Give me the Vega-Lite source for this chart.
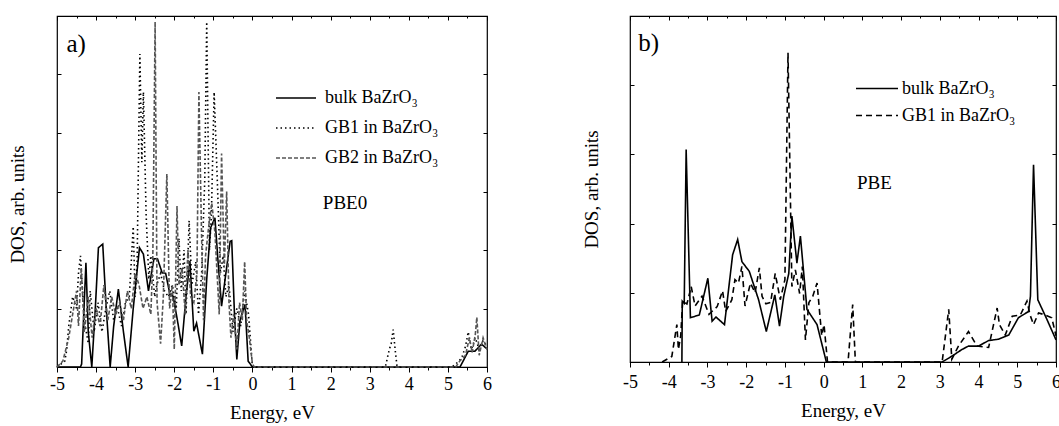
{
  "$schema": "https://vega.github.io/schema/vega-lite/v6.json",
  "autosize": {"type": "pad"},
  "padding": {"left": 7, "top": 14, "right": 0, "bottom": 0},
  "background": "white",
  "config": {
    "view": {"stroke": "black", "strokeWidth": 1.2},
    "axis": {"labelFont": "Liberation Serif", "titleFont": "Liberation Serif", "labelColor": "black", "titleColor": "black", "titleFontWeight": "normal", "grid": false, "tickColor": "black", "domainColor": "black"},
    "legend": {"labelFont": "Liberation Serif", "labelColor": "black"},
    "text": {"font": "Liberation Serif", "color": "black"}
  },
  "datasets": {
    "a": [
      {"s": "bulk BaZrO₃", "E": -5, "v": 0}, {"s": "bulk BaZrO₃", "E": -4.4, "v": 0}, {"s": "bulk BaZrO₃", "E": -4.37, "v": 0.05}, {"s": "bulk BaZrO₃", "E": -4.26, "v": 1.78}, {"s": "bulk BaZrO₃", "E": -4.2, "v": 0.6}, {"s": "bulk BaZrO₃", "E": -4.11, "v": 0}, {"s": "bulk BaZrO₃", "E": -4.02, "v": 1.0}, {"s": "bulk BaZrO₃", "E": -3.94, "v": 2.04}, {"s": "bulk BaZrO₃", "E": -3.83, "v": 2.1}, {"s": "bulk BaZrO₃", "E": -3.74, "v": 1.0}, {"s": "bulk BaZrO₃", "E": -3.64, "v": 0}, {"s": "bulk BaZrO₃", "E": -3.55, "v": 0.7}, {"s": "bulk BaZrO₃", "E": -3.43, "v": 1.33}, {"s": "bulk BaZrO₃", "E": -3.3, "v": 0.6}, {"s": "bulk BaZrO₃", "E": -3.18, "v": 0}, {"s": "bulk BaZrO₃", "E": -3.05, "v": 1.0}, {"s": "bulk BaZrO₃", "E": -2.89, "v": 2.04}, {"s": "bulk BaZrO₃", "E": -2.79, "v": 1.93}, {"s": "bulk BaZrO₃", "E": -2.66, "v": 1.3}, {"s": "bulk BaZrO₃", "E": -2.52, "v": 1.85}, {"s": "bulk BaZrO₃", "E": -2.43, "v": 1.85}, {"s": "bulk BaZrO₃", "E": -2.31, "v": 1.61}, {"s": "bulk BaZrO₃", "E": -2.22, "v": 1.6}, {"s": "bulk BaZrO₃", "E": -2.11, "v": 1.24}, {"s": "bulk BaZrO₃", "E": -2.03, "v": 1.21}, {"s": "bulk BaZrO₃", "E": -1.92, "v": 0.8}, {"s": "bulk BaZrO₃", "E": -1.81, "v": 0.36}, {"s": "bulk BaZrO₃", "E": -1.7, "v": 1.2}, {"s": "bulk BaZrO₃", "E": -1.6, "v": 1.81}, {"s": "bulk BaZrO₃", "E": -1.5, "v": 0.61}, {"s": "bulk BaZrO₃", "E": -1.43, "v": 0.75}, {"s": "bulk BaZrO₃", "E": -1.36, "v": 0.5}, {"s": "bulk BaZrO₃", "E": -1.28, "v": 0.22}, {"s": "bulk BaZrO₃", "E": -1.17, "v": 1.5}, {"s": "bulk BaZrO₃", "E": -1.07, "v": 2.38}, {"s": "bulk BaZrO₃", "E": -0.96, "v": 2.55}, {"s": "bulk BaZrO₃", "E": -0.88, "v": 1.8}, {"s": "bulk BaZrO₃", "E": -0.79, "v": 1.04}, {"s": "bulk BaZrO₃", "E": -0.68, "v": 1.6}, {"s": "bulk BaZrO₃", "E": -0.57, "v": 2.15}, {"s": "bulk BaZrO₃", "E": -0.53, "v": 2.16}, {"s": "bulk BaZrO₃", "E": -0.46, "v": 0.9}, {"s": "bulk BaZrO₃", "E": -0.4, "v": 0.13}, {"s": "bulk BaZrO₃", "E": -0.32, "v": 0.79}, {"s": "bulk BaZrO₃", "E": -0.19, "v": 1.07}, {"s": "bulk BaZrO₃", "E": -0.11, "v": 0.1}, {"s": "bulk BaZrO₃", "E": 0, "v": 0}, {"s": "bulk BaZrO₃", "E": 5.14, "v": 0}, {"s": "bulk BaZrO₃", "E": 5.31, "v": 0}, {"s": "bulk BaZrO₃", "E": 5.52, "v": 0.27}, {"s": "bulk BaZrO₃", "E": 5.69, "v": 0.27}, {"s": "bulk BaZrO₃", "E": 5.86, "v": 0.39}, {"s": "bulk BaZrO₃", "E": 6, "v": 0.31},

      {"s": "GB1 in BaZrO₃", "E": -5, "v": 0}, {"s": "GB1 in BaZrO₃", "E": -4.9, "v": 0.05}, {"s": "GB1 in BaZrO₃", "E": -4.8, "v": 0.1}, {"s": "GB1 in BaZrO₃", "E": -4.75, "v": 0.3}, {"s": "GB1 in BaZrO₃", "E": -4.7, "v": 0.7}, {"s": "GB1 in BaZrO₃", "E": -4.6, "v": 1.2}, {"s": "GB1 in BaZrO₃", "E": -4.5, "v": 1.0}, {"s": "GB1 in BaZrO₃", "E": -4.45, "v": 1.6}, {"s": "GB1 in BaZrO₃", "E": -4.4, "v": 1.9}, {"s": "GB1 in BaZrO₃", "E": -4.3, "v": 0.8}, {"s": "GB1 in BaZrO₃", "E": -4.2, "v": 0.4}, {"s": "GB1 in BaZrO₃", "E": -4.15, "v": 1.3}, {"s": "GB1 in BaZrO₃", "E": -4.05, "v": 0.6}, {"s": "GB1 in BaZrO₃", "E": -3.95, "v": 1.1}, {"s": "GB1 in BaZrO₃", "E": -3.85, "v": 0.6}, {"s": "GB1 in BaZrO₃", "E": -3.75, "v": 1.0}, {"s": "GB1 in BaZrO₃", "E": -3.65, "v": 1.3}, {"s": "GB1 in BaZrO₃", "E": -3.55, "v": 0.8}, {"s": "GB1 in BaZrO₃", "E": -3.45, "v": 1.0}, {"s": "GB1 in BaZrO₃", "E": -3.35, "v": 0.7}, {"s": "GB1 in BaZrO₃", "E": -3.25, "v": 1.1}, {"s": "GB1 in BaZrO₃", "E": -3.15, "v": 1.2}, {"s": "GB1 in BaZrO₃", "E": -3.05, "v": 2.4}, {"s": "GB1 in BaZrO₃", "E": -3.0, "v": 1.2}, {"s": "GB1 in BaZrO₃", "E": -2.95, "v": 1.8}, {"s": "GB1 in BaZrO₃", "E": -2.88, "v": 5.35}, {"s": "GB1 in BaZrO₃", "E": -2.83, "v": 3.5}, {"s": "GB1 in BaZrO₃", "E": -2.79, "v": 4.7}, {"s": "GB1 in BaZrO₃", "E": -2.72, "v": 2.6}, {"s": "GB1 in BaZrO₃", "E": -2.65, "v": 1.5}, {"s": "GB1 in BaZrO₃", "E": -2.6, "v": 1.9}, {"s": "GB1 in BaZrO₃", "E": -2.5, "v": 1.2}, {"s": "GB1 in BaZrO₃", "E": -2.45, "v": 1.4}, {"s": "GB1 in BaZrO₃", "E": -2.35, "v": 1.6}, {"s": "GB1 in BaZrO₃", "E": -2.25, "v": 1.3}, {"s": "GB1 in BaZrO₃", "E": -2.15, "v": 1.2}, {"s": "GB1 in BaZrO₃", "E": -2.05, "v": 1.4}, {"s": "GB1 in BaZrO₃", "E": -1.95, "v": 1.0}, {"s": "GB1 in BaZrO₃", "E": -1.88, "v": 2.2}, {"s": "GB1 in BaZrO₃", "E": -1.82, "v": 1.3}, {"s": "GB1 in BaZrO₃", "E": -1.75, "v": 2.0}, {"s": "GB1 in BaZrO₃", "E": -1.7, "v": 0.9}, {"s": "GB1 in BaZrO₃", "E": -1.62, "v": 2.5}, {"s": "GB1 in BaZrO₃", "E": -1.55, "v": 1.4}, {"s": "GB1 in BaZrO₃", "E": -1.45, "v": 1.8}, {"s": "GB1 in BaZrO₃", "E": -1.38, "v": 0.9}, {"s": "GB1 in BaZrO₃", "E": -1.3, "v": 1.6}, {"s": "GB1 in BaZrO₃", "E": -1.22, "v": 3.2}, {"s": "GB1 in BaZrO₃", "E": -1.17, "v": 5.9}, {"s": "GB1 in BaZrO₃", "E": -1.1, "v": 2.0}, {"s": "GB1 in BaZrO₃", "E": -1.05, "v": 2.6}, {"s": "GB1 in BaZrO₃", "E": -0.98, "v": 4.7}, {"s": "GB1 in BaZrO₃", "E": -0.9, "v": 3.2}, {"s": "GB1 in BaZrO₃", "E": -0.82, "v": 1.6}, {"s": "GB1 in BaZrO₃", "E": -0.75, "v": 1.9}, {"s": "GB1 in BaZrO₃", "E": -0.68, "v": 1.2}, {"s": "GB1 in BaZrO₃", "E": -0.6, "v": 1.4}, {"s": "GB1 in BaZrO₃", "E": -0.5, "v": 0.6}, {"s": "GB1 in BaZrO₃", "E": -0.4, "v": 1.0}, {"s": "GB1 in BaZrO₃", "E": -0.3, "v": 0.7}, {"s": "GB1 in BaZrO₃", "E": -0.2, "v": 1.3}, {"s": "GB1 in BaZrO₃", "E": -0.1, "v": 0.9}, {"s": "GB1 in BaZrO₃", "E": -0.05, "v": 0.45}, {"s": "GB1 in BaZrO₃", "E": 0, "v": 0}, {"s": "GB1 in BaZrO₃", "E": 3.4, "v": 0}, {"s": "GB1 in BaZrO₃", "E": 3.5, "v": 0.3}, {"s": "GB1 in BaZrO₃", "E": 3.55, "v": 0.4}, {"s": "GB1 in BaZrO₃", "E": 3.6, "v": 0.64}, {"s": "GB1 in BaZrO₃", "E": 3.65, "v": 0.3}, {"s": "GB1 in BaZrO₃", "E": 3.7, "v": 0}, {"s": "GB1 in BaZrO₃", "E": 5.1, "v": 0}, {"s": "GB1 in BaZrO₃", "E": 5.2, "v": 0.05}, {"s": "GB1 in BaZrO₃", "E": 5.35, "v": 0.15}, {"s": "GB1 in BaZrO₃", "E": 5.45, "v": 0.35}, {"s": "GB1 in BaZrO₃", "E": 5.52, "v": 0.6}, {"s": "GB1 in BaZrO₃", "E": 5.6, "v": 0.3}, {"s": "GB1 in BaZrO₃", "E": 5.7, "v": 0.5}, {"s": "GB1 in BaZrO₃", "E": 5.8, "v": 0.3}, {"s": "GB1 in BaZrO₃", "E": 5.9, "v": 0.45}, {"s": "GB1 in BaZrO₃", "E": 6, "v": 0.35},

      {"s": "GB2 in BaZrO₃", "E": -5, "v": 0}, {"s": "GB2 in BaZrO₃", "E": -4.85, "v": 0.1}, {"s": "GB2 in BaZrO₃", "E": -4.7, "v": 0.5}, {"s": "GB2 in BaZrO₃", "E": -4.6, "v": 0.9}, {"s": "GB2 in BaZrO₃", "E": -4.5, "v": 1.3}, {"s": "GB2 in BaZrO₃", "E": -4.45, "v": 0.7}, {"s": "GB2 in BaZrO₃", "E": -4.38, "v": 1.7}, {"s": "GB2 in BaZrO₃", "E": -4.3, "v": 0.6}, {"s": "GB2 in BaZrO₃", "E": -4.2, "v": 1.2}, {"s": "GB2 in BaZrO₃", "E": -4.1, "v": 0.5}, {"s": "GB2 in BaZrO₃", "E": -4.0, "v": 1.0}, {"s": "GB2 in BaZrO₃", "E": -3.9, "v": 0.7}, {"s": "GB2 in BaZrO₃", "E": -3.8, "v": 1.4}, {"s": "GB2 in BaZrO₃", "E": -3.7, "v": 0.8}, {"s": "GB2 in BaZrO₃", "E": -3.6, "v": 1.2}, {"s": "GB2 in BaZrO₃", "E": -3.5, "v": 0.9}, {"s": "GB2 in BaZrO₃", "E": -3.4, "v": 1.1}, {"s": "GB2 in BaZrO₃", "E": -3.3, "v": 0.8}, {"s": "GB2 in BaZrO₃", "E": -3.2, "v": 1.3}, {"s": "GB2 in BaZrO₃", "E": -3.1, "v": 1.0}, {"s": "GB2 in BaZrO₃", "E": -3.0, "v": 1.6}, {"s": "GB2 in BaZrO₃", "E": -2.9, "v": 1.4}, {"s": "GB2 in BaZrO₃", "E": -2.8, "v": 1.0}, {"s": "GB2 in BaZrO₃", "E": -2.7, "v": 1.2}, {"s": "GB2 in BaZrO₃", "E": -2.6, "v": 0.9}, {"s": "GB2 in BaZrO₃", "E": -2.55, "v": 1.8}, {"s": "GB2 in BaZrO₃", "E": -2.49, "v": 5.9}, {"s": "GB2 in BaZrO₃", "E": -2.44, "v": 1.1}, {"s": "GB2 in BaZrO₃", "E": -2.35, "v": 0.4}, {"s": "GB2 in BaZrO₃", "E": -2.28, "v": 1.2}, {"s": "GB2 in BaZrO₃", "E": -2.19, "v": 3.3}, {"s": "GB2 in BaZrO₃", "E": -2.12, "v": 1.0}, {"s": "GB2 in BaZrO₃", "E": -2.05, "v": 1.4}, {"s": "GB2 in BaZrO₃", "E": -2.0, "v": 0.3}, {"s": "GB2 in BaZrO₃", "E": -1.93, "v": 2.75}, {"s": "GB2 in BaZrO₃", "E": -1.88, "v": 1.4}, {"s": "GB2 in BaZrO₃", "E": -1.8, "v": 1.7}, {"s": "GB2 in BaZrO₃", "E": -1.72, "v": 0.9}, {"s": "GB2 in BaZrO₃", "E": -1.65, "v": 2.0}, {"s": "GB2 in BaZrO₃", "E": -1.58, "v": 1.2}, {"s": "GB2 in BaZrO₃", "E": -1.5, "v": 1.1}, {"s": "GB2 in BaZrO₃", "E": -1.42, "v": 1.6}, {"s": "GB2 in BaZrO₃", "E": -1.37, "v": 4.7}, {"s": "GB2 in BaZrO₃", "E": -1.3, "v": 2.2}, {"s": "GB2 in BaZrO₃", "E": -1.25, "v": 0.8}, {"s": "GB2 in BaZrO₃", "E": -1.2, "v": 1.9}, {"s": "GB2 in BaZrO₃", "E": -1.12, "v": 2.4}, {"s": "GB2 in BaZrO₃", "E": -1.04, "v": 2.8}, {"s": "GB2 in BaZrO₃", "E": -0.96, "v": 2.3}, {"s": "GB2 in BaZrO₃", "E": -0.85, "v": 0.9}, {"s": "GB2 in BaZrO₃", "E": -0.79, "v": 3.65}, {"s": "GB2 in BaZrO₃", "E": -0.72, "v": 1.7}, {"s": "GB2 in BaZrO₃", "E": -0.66, "v": 3.0}, {"s": "GB2 in BaZrO₃", "E": -0.6, "v": 1.1}, {"s": "GB2 in BaZrO₃", "E": -0.55, "v": 0.5}, {"s": "GB2 in BaZrO₃", "E": -0.48, "v": 0.9}, {"s": "GB2 in BaZrO₃", "E": -0.4, "v": 0.3}, {"s": "GB2 in BaZrO₃", "E": -0.33, "v": 1.1}, {"s": "GB2 in BaZrO₃", "E": -0.26, "v": 0.8}, {"s": "GB2 in BaZrO₃", "E": -0.2, "v": 1.8}, {"s": "GB2 in BaZrO₃", "E": -0.15, "v": 0.8}, {"s": "GB2 in BaZrO₃", "E": -0.08, "v": 0.5}, {"s": "GB2 in BaZrO₃", "E": 0, "v": 0.05}, {"s": "GB2 in BaZrO₃", "E": 0.05, "v": 0}, {"s": "GB2 in BaZrO₃", "E": 5.2, "v": 0}, {"s": "GB2 in BaZrO₃", "E": 5.3, "v": 0.1}, {"s": "GB2 in BaZrO₃", "E": 5.45, "v": 0.2}, {"s": "GB2 in BaZrO₃", "E": 5.55, "v": 0.5}, {"s": "GB2 in BaZrO₃", "E": 5.62, "v": 0.25}, {"s": "GB2 in BaZrO₃", "E": 5.7, "v": 0.55}, {"s": "GB2 in BaZrO₃", "E": 5.74, "v": 0.85}, {"s": "GB2 in BaZrO₃", "E": 5.8, "v": 0.2}, {"s": "GB2 in BaZrO₃", "E": 5.9, "v": 0.5}, {"s": "GB2 in BaZrO₃", "E": 6, "v": 0.3}
    ],
    "b": [
      {"s": "bulk BaZrO₃", "E": -3.66, "v": 0}, {"s": "bulk BaZrO₃", "E": -3.65, "v": 0.88}, {"s": "bulk BaZrO₃", "E": -3.6, "v": 0.85}, {"s": "bulk BaZrO₃", "E": -3.55, "v": 3.07}, {"s": "bulk BaZrO₃", "E": -3.44, "v": 0.64}, {"s": "bulk BaZrO₃", "E": -3.21, "v": 0.68}, {"s": "bulk BaZrO₃", "E": -2.99, "v": 1.21}, {"s": "bulk BaZrO₃", "E": -2.88, "v": 0.59}, {"s": "bulk BaZrO₃", "E": -2.78, "v": 0.65}, {"s": "bulk BaZrO₃", "E": -2.56, "v": 0.54}, {"s": "bulk BaZrO₃", "E": -2.35, "v": 1.55}, {"s": "bulk BaZrO₃", "E": -2.22, "v": 1.77}, {"s": "bulk BaZrO₃", "E": -2.11, "v": 1.45}, {"s": "bulk BaZrO₃", "E": -1.92, "v": 1.31}, {"s": "bulk BaZrO₃", "E": -1.68, "v": 0.9}, {"s": "bulk BaZrO₃", "E": -1.48, "v": 0.44}, {"s": "bulk BaZrO₃", "E": -1.26, "v": 0.97}, {"s": "bulk BaZrO₃", "E": -1.14, "v": 0.52}, {"s": "bulk BaZrO₃", "E": -1.03, "v": 0.95}, {"s": "bulk BaZrO₃", "E": -0.9, "v": 1.28}, {"s": "bulk BaZrO₃", "E": -0.82, "v": 2.11}, {"s": "bulk BaZrO₃", "E": -0.69, "v": 1.43}, {"s": "bulk BaZrO₃", "E": -0.6, "v": 1.82}, {"s": "bulk BaZrO₃", "E": -0.43, "v": 0.76}, {"s": "bulk BaZrO₃", "E": -0.17, "v": 0.54}, {"s": "bulk BaZrO₃", "E": 0.07, "v": 0}, {"s": "bulk BaZrO₃", "E": 3.06, "v": 0}, {"s": "bulk BaZrO₃", "E": 3.3, "v": 0.08}, {"s": "bulk BaZrO₃", "E": 3.57, "v": 0.18}, {"s": "bulk BaZrO₃", "E": 3.74, "v": 0.23}, {"s": "bulk BaZrO₃", "E": 4.0, "v": 0.23}, {"s": "bulk BaZrO₃", "E": 4.26, "v": 0.31}, {"s": "bulk BaZrO₃", "E": 4.52, "v": 0.33}, {"s": "bulk BaZrO₃", "E": 4.78, "v": 0.39}, {"s": "bulk BaZrO₃", "E": 5.03, "v": 0.64}, {"s": "bulk BaZrO₃", "E": 5.29, "v": 0.73}, {"s": "bulk BaZrO₃", "E": 5.34, "v": 0.95}, {"s": "bulk BaZrO₃", "E": 5.42, "v": 2.85}, {"s": "bulk BaZrO₃", "E": 5.53, "v": 0.9}, {"s": "bulk BaZrO₃", "E": 5.77, "v": 0.61}, {"s": "bulk BaZrO₃", "E": 6.0, "v": 0.32},

      {"s": "GB1 in BaZrO₃", "E": -4.17, "v": 0}, {"s": "GB1 in BaZrO₃", "E": -3.92, "v": 0.08}, {"s": "GB1 in BaZrO₃", "E": -3.79, "v": 0.54}, {"s": "GB1 in BaZrO₃", "E": -3.75, "v": 0.18}, {"s": "GB1 in BaZrO₃", "E": -3.69, "v": 0.38}, {"s": "GB1 in BaZrO₃", "E": -3.64, "v": 0.88}, {"s": "GB1 in BaZrO₃", "E": -3.53, "v": 0.84}, {"s": "GB1 in BaZrO₃", "E": -3.42, "v": 1.09}, {"s": "GB1 in BaZrO₃", "E": -3.32, "v": 0.81}, {"s": "GB1 in BaZrO₃", "E": -3.14, "v": 0.95}, {"s": "GB1 in BaZrO₃", "E": -2.96, "v": 0.69}, {"s": "GB1 in BaZrO₃", "E": -2.75, "v": 0.8}, {"s": "GB1 in BaZrO₃", "E": -2.61, "v": 1.03}, {"s": "GB1 in BaZrO₃", "E": -2.53, "v": 0.73}, {"s": "GB1 in BaZrO₃", "E": -2.37, "v": 0.9}, {"s": "GB1 in BaZrO₃", "E": -2.29, "v": 1.19}, {"s": "GB1 in BaZrO₃", "E": -2.2, "v": 1.14}, {"s": "GB1 in BaZrO₃", "E": -2.11, "v": 1.38}, {"s": "GB1 in BaZrO₃", "E": -2.03, "v": 0.81}, {"s": "GB1 in BaZrO₃", "E": -1.89, "v": 1.14}, {"s": "GB1 in BaZrO₃", "E": -1.77, "v": 1.0}, {"s": "GB1 in BaZrO₃", "E": -1.66, "v": 1.36}, {"s": "GB1 in BaZrO₃", "E": -1.59, "v": 0.95}, {"s": "GB1 in BaZrO₃", "E": -1.49, "v": 0.84}, {"s": "GB1 in BaZrO₃", "E": -1.37, "v": 0.86}, {"s": "GB1 in BaZrO₃", "E": -1.25, "v": 1.28}, {"s": "GB1 in BaZrO₃", "E": -1.12, "v": 0.9}, {"s": "GB1 in BaZrO₃", "E": -1.0, "v": 1.19}, {"s": "GB1 in BaZrO₃", "E": -0.92, "v": 4.47}, {"s": "GB1 in BaZrO₃", "E": -0.82, "v": 1.09}, {"s": "GB1 in BaZrO₃", "E": -0.73, "v": 1.33}, {"s": "GB1 in BaZrO₃", "E": -0.62, "v": 0.99}, {"s": "GB1 in BaZrO₃", "E": -0.55, "v": 1.38}, {"s": "GB1 in BaZrO₃", "E": -0.47, "v": 0.32}, {"s": "GB1 in BaZrO₃", "E": -0.38, "v": 0.86}, {"s": "GB1 in BaZrO₃", "E": -0.28, "v": 0.95}, {"s": "GB1 in BaZrO₃", "E": -0.17, "v": 1.14}, {"s": "GB1 in BaZrO₃", "E": -0.05, "v": 0.38}, {"s": "GB1 in BaZrO₃", "E": 0.01, "v": 0.54}, {"s": "GB1 in BaZrO₃", "E": 0.1, "v": 0}, {"s": "GB1 in BaZrO₃", "E": 0.63, "v": 0}, {"s": "GB1 in BaZrO₃", "E": 0.75, "v": 0.83}, {"s": "GB1 in BaZrO₃", "E": 0.82, "v": 0}, {"s": "GB1 in BaZrO₃", "E": 3.06, "v": 0}, {"s": "GB1 in BaZrO₃", "E": 3.23, "v": 0.76}, {"s": "GB1 in BaZrO₃", "E": 3.31, "v": 0.04}, {"s": "GB1 in BaZrO₃", "E": 3.48, "v": 0.23}, {"s": "GB1 in BaZrO₃", "E": 3.74, "v": 0.44}, {"s": "GB1 in BaZrO₃", "E": 3.96, "v": 0.23}, {"s": "GB1 in BaZrO₃", "E": 4.26, "v": 0.21}, {"s": "GB1 in BaZrO₃", "E": 4.48, "v": 0.78}, {"s": "GB1 in BaZrO₃", "E": 4.54, "v": 0.54}, {"s": "GB1 in BaZrO₃", "E": 4.69, "v": 0.39}, {"s": "GB1 in BaZrO₃", "E": 4.87, "v": 0.66}, {"s": "GB1 in BaZrO₃", "E": 5.08, "v": 0.68}, {"s": "GB1 in BaZrO₃", "E": 5.25, "v": 0.88}, {"s": "GB1 in BaZrO₃", "E": 5.33, "v": 0.68}, {"s": "GB1 in BaZrO₃", "E": 5.42, "v": 0.54}, {"s": "GB1 in BaZrO₃", "E": 5.55, "v": 0.71}, {"s": "GB1 in BaZrO₃", "E": 5.72, "v": 0.68}, {"s": "GB1 in BaZrO₃", "E": 5.89, "v": 0.64}, {"s": "GB1 in BaZrO₃", "E": 6.0, "v": 0.38}
    ]
  },
  "spacing": 88,
  "resolve": {
    "scale": {"color": "independent", "strokeDash": "independent", "strokeWidth": "independent"},
    "legend": {"color": "independent", "strokeDash": "independent", "strokeWidth": "independent"}
  },
  "hconcat": [
    {
      "width": 430,
      "height": 351,
      "resolve": {"axis": {"x": "independent", "y": "independent"}},
      "layer": [
        {
          "data": {"name": "a"},
          "mark": {"type": "line", "strokeCap": "butt", "strokeJoin": "miter"},
          "encoding": {
            "x": {"field": "E", "type": "quantitative", "scale": {"domain": [-5, 6], "nice": false, "zero": false},
              "axis": {"orient": "bottom", "values": [-5, -4.5, -4, -3.5, -3, -2.5, -2, -1.5, -1, -0.5, 0, 0.5, 1, 1.5, 2, 2.5, 3, 3.5, 4, 4.5, 5, 5.5, 6],
                "labelExpr": "datum.value % 1 === 0 ? '' + datum.value : ''", "labelFlush": false, "labelOverlap": false,
                "tickSize": {"condition": {"test": "datum.value % 1 === 0", "value": 5}, "value": 3},
                "labelFontSize": 18, "labelPadding": 3, "title": "Energy, eV", "titleFontSize": 19, "titlePadding": 10}},
            "y": {"field": "v", "type": "quantitative", "scale": {"domain": [0, 6], "nice": false},
              "axis": {"orient": "left", "values": [0, 1, 2, 3, 4, 5, 6], "labels": false, "tickSize": -4, "domain": false,
                "title": "DOS, arb. units", "titleFontSize": 19, "titlePadding": 29, "titleY": 188}},
            "color": {"field": "s", "type": "nominal",
              "scale": {"domain": ["bulk BaZrO₃", "GB1 in BaZrO₃", "GB2 in BaZrO₃"], "range": ["#000000", "#000000", "#555555"]},
              "legend": {"orient": "none", "legendX": 218, "legendY": 68, "title": null, "symbolType": "stroke", "symbolSize": 1600, "clipHeight": 28, "rowPadding": 2, "labelFontSize": 18, "labelOffset": 8}},
            "strokeDash": {"field": "s", "type": "nominal",
              "scale": {"domain": ["bulk BaZrO₃", "GB1 in BaZrO₃", "GB2 in BaZrO₃"], "range": [[1, 0], [1.5, 3], [4, 2]]}},
            "strokeWidth": {"field": "s", "type": "nominal",
              "scale": {"domain": ["bulk BaZrO₃", "GB1 in BaZrO₃", "GB2 in BaZrO₃"], "range": [1.6, 1.6, 1]}}
          }
        },
        {
          "data": {"values": [{}]},
          "mark": {"type": "text", "fontSize": 25, "align": "left", "baseline": "middle", "text": "a)"},
          "encoding": {
            "x": {"datum": -4.76, "type": "quantitative",
              "axis": {"orient": "top", "values": [-5, -4.5, -4, -3.5, -3, -2.5, -2, -1.5, -1, -0.5, 0, 0.5, 1, 1.5, 2, 2.5, 3, 3.5, 4, 4.5, 5, 5.5, 6], "labels": false, "title": null, "domain": false,
                "tickSize": {"condition": {"test": "datum.value % 1 === 0", "value": -4}, "value": -2}}},
            "y": {"datum": 5.52, "type": "quantitative",
              "axis": {"orient": "right", "values": [0, 1, 2, 3, 4, 5, 6], "labels": false, "title": null, "domain": false, "tickSize": -4}}
          }
        },
        {
          "data": {"values": [{}]},
          "mark": {"type": "text", "fontSize": 19, "align": "left", "baseline": "middle", "text": "PBE0"},
          "encoding": {
            "x": {"datum": 1.8, "type": "quantitative", "axis": null},
            "y": {"datum": 2.8, "type": "quantitative", "axis": null}
          }
        }
      ]
    },
    {
      "width": 426,
      "height": 346,
      "resolve": {"axis": {"x": "independent", "y": "independent"}},
      "layer": [
        {
          "data": {"name": "b"},
          "mark": {"type": "line", "strokeCap": "butt", "strokeJoin": "miter"},
          "encoding": {
            "x": {"field": "E", "type": "quantitative", "scale": {"domain": [-5, 6], "nice": false, "zero": false},
              "axis": {"orient": "bottom", "values": [-5, -4.5, -4, -3.5, -3, -2.5, -2, -1.5, -1, -0.5, 0, 0.5, 1, 1.5, 2, 2.5, 3, 3.5, 4, 4.5, 5, 5.5, 6],
                "labelExpr": "datum.value % 1 === 0 ? '' + datum.value : ''", "labelFlush": false, "labelOverlap": false,
                "tickSize": {"condition": {"test": "datum.value % 1 === 0", "value": 5}, "value": 3},
                "labelFontSize": 18, "labelPadding": 6, "title": "Energy, eV", "titleFontSize": 19, "titlePadding": 10}},
            "y": {"field": "v", "type": "quantitative", "scale": {"domain": [0, 5], "nice": false},
              "axis": {"orient": "left", "values": [0, 1, 2, 3, 4, 5], "labels": false, "tickSize": -4, "domain": false,
                "title": "DOS, arb. units", "titleFontSize": 19, "titlePadding": 28}},
            "color": {"field": "s", "type": "nominal",
              "scale": {"domain": ["bulk BaZrO₃", "GB1 in BaZrO₃"], "range": ["#000000", "#000000"]},
              "legend": {"orient": "none", "legendX": 225, "legendY": 60, "title": null, "symbolType": "stroke", "symbolSize": 1764, "clipHeight": 25, "rowPadding": 2, "labelFontSize": 18, "labelOffset": 3}},
            "strokeDash": {"field": "s", "type": "nominal",
              "scale": {"domain": ["bulk BaZrO₃", "GB1 in BaZrO₃"], "range": [[1, 0], [6, 4]]}},
            "strokeWidth": {"field": "s", "type": "nominal",
              "scale": {"domain": ["bulk BaZrO₃", "GB1 in BaZrO₃"], "range": [1.6, 1.6]}}
          }
        },
        {
          "data": {"values": [{}]},
          "mark": {"type": "text", "fontSize": 25, "align": "left", "baseline": "middle", "text": "b)"},
          "encoding": {
            "x": {"datum": -4.79, "type": "quantitative",
              "axis": {"orient": "top", "values": [-5, -4.5, -4, -3.5, -3, -2.5, -2, -1.5, -1, -0.5, 0, 0.5, 1, 1.5, 2, 2.5, 3, 3.5, 4, 4.5, 5, 5.5, 6], "labels": false, "title": null, "domain": false,
                "tickSize": {"condition": {"test": "datum.value % 1 === 0", "value": -4}, "value": -2}}},
            "y": {"datum": 4.61, "type": "quantitative",
              "axis": {"orient": "right", "values": [0, 1, 2, 3, 4, 5], "labels": false, "title": null, "domain": false, "tickSize": -4}}
          }
        },
        {
          "data": {"values": [{}]},
          "mark": {"type": "text", "fontSize": 19, "align": "left", "baseline": "middle", "text": "PBE"},
          "encoding": {
            "x": {"datum": 0.86, "type": "quantitative", "axis": null},
            "y": {"datum": 2.59, "type": "quantitative", "axis": null}
          }
        }
      ]
    }
  ]
}
